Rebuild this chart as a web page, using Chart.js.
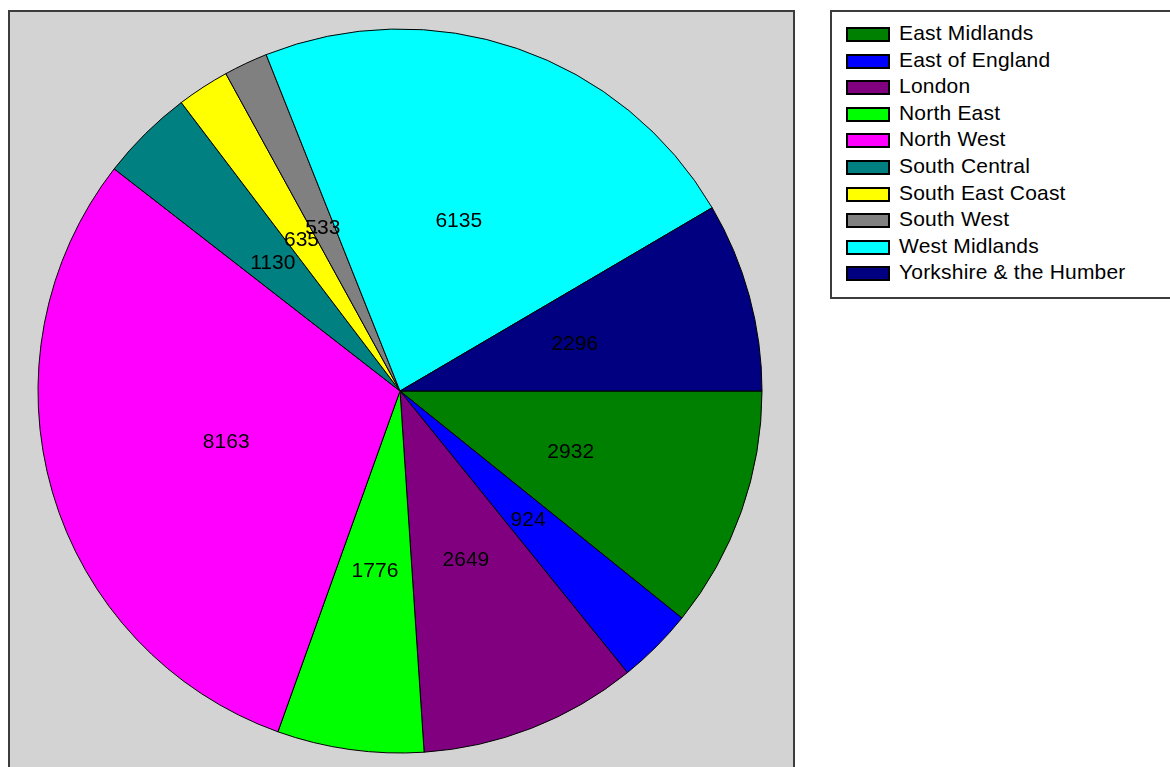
<!DOCTYPE html>
<html>
<head>
<meta charset="utf-8">
<script src="https://cdn.jsdelivr.net/npm/chart.js@4"></script>
<style>
  html, body { margin: 0; padding: 0; background: #fff; overflow: hidden; }
  body { width: 1170px; height: 767px; position: relative; font-family: "Liberation Sans", Arial, sans-serif; }
  #plotBg { position: absolute; left: 8px; top: 10px; width: 783px; height: 800px; background: #d3d3d3; border: 2px solid #3c3c3c; border-bottom: none; }
  #pie { position: absolute; left: 0; top: 0; }
  #legend { position: absolute; left: 830px; top: 10px; width: 360px; height: 285px; border: 2px solid #3c3c3c; background: #fff; }
  .row { position: absolute; left: 14px; height: 27px; }
  .sw { position: absolute; left: 0; top: 0; width: 40px; height: 11px; border: 2px solid #000; }
  .lbl { position: absolute; left: 53px; top: -6px; font-size: 21px; letter-spacing: 0.2px; color: #000; white-space: nowrap; }
</style>
</head>
<body>
<div id="plotBg"></div>
<canvas id="pie" width="800" height="782"></canvas>
<div id="legend"></div>
<script>
// data
var regions = ['East Midlands', 'East of England', 'London', 'North East', 'North West',
    'South Central', 'South East Coast', 'South West', 'West Midlands', 'Yorkshire & the Humber'];
var counts = [2932, 924, 2649, 1776, 8163, 1130, 635, 533, 6135, 2296];
var colours = ['#008000', '#0000ff', '#800080', '#00ff00', '#ff00ff',
    '#008080', '#ffff00', '#808080', '#00ffff', '#000080'];

// value labels half way out along each slice
var sliceLabels = {
    id: 'sliceLabels',
    afterDatasetsDraw: function (chart) {
        var ctx = chart.ctx;
        var meta = chart.getDatasetMeta(0);
        ctx.save();
        ctx.font = '21px "Liberation Sans", Arial, sans-serif';
        ctx.fillStyle = '#000';
        ctx.textAlign = 'center';
        ctx.textBaseline = 'middle';
        meta.data.forEach(function (arc, i) {
            var p = arc.getProps(['x', 'y', 'startAngle', 'endAngle', 'outerRadius'], true);
            var mid = (p.startAngle + p.endAngle) / 2;
            var r = p.outerRadius / 2;
            ctx.fillText(String(counts[i]), p.x + Math.cos(mid) * r, p.y + Math.sin(mid) * r + 1);
        });
        ctx.restore();
    }
};

new Chart(document.getElementById('pie'), {
    type: 'pie',
    data: {
        labels: regions,
        datasets: [{
            data: counts,
            backgroundColor: colours,
            borderColor: '#000',
            borderWidth: 1
        }]
    },
    options: {
        responsive: false,
        animation: false,
        rotation: 90,
        radius: 362,
        plugins: {
            legend: { display: false },
            tooltip: { enabled: false }
        }
    },
    plugins: [sliceLabels]
});

// legend box
var legend = document.getElementById('legend');
regions.forEach(function (name, i) {
    var row = document.createElement('div');
    row.className = 'row';
    row.style.top = (15 + i * 26.6) + 'px';
    row.innerHTML = '<div class="sw" style="background:' + colours[i] + '"></div>' +
        '<div class="lbl">' + name.replace('&', '&amp;') + '</div>';
    legend.appendChild(row);
});
</script>
</body>
</html>
